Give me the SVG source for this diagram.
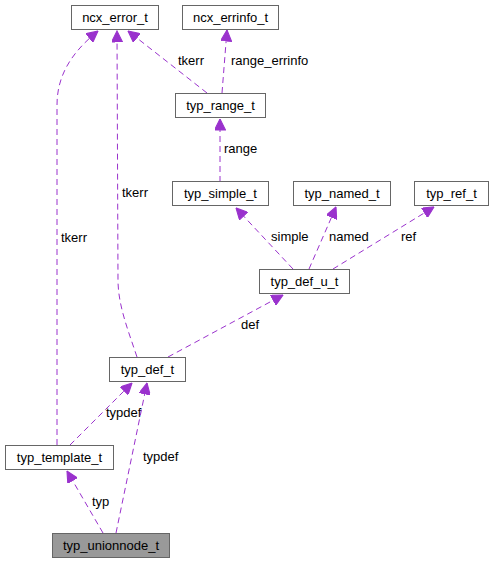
<svg xmlns="http://www.w3.org/2000/svg" width="493" height="564" viewBox="0 0 493 564">
<style>
.box{fill:#ffffff;stroke:#666666;stroke-width:1}
.cur{fill:#999999;stroke:#666666;stroke-width:1}
.lbl{font-family:"Liberation Sans",Arial,sans-serif;font-size:13px;fill:#000000}
.nt{text-anchor:middle}
.e{fill:none;stroke:#9a32cd;stroke-width:1;stroke-dasharray:6,4}
</style>
<defs>
<marker id="ah" viewBox="0 0 10 10" refX="10" refY="5" markerWidth="12" markerHeight="11" markerUnits="userSpaceOnUse" orient="auto">
<path d="M0,0 L10,5 L0,10 Z" fill="#9a32cd" stroke="#9a32cd" stroke-width="1" stroke-dasharray="none"/>
</marker>
</defs>
<rect width="493" height="564" fill="#ffffff"/>
<g id="edges">
<path class="e" marker-end="url(#ah)" d="M57,445 L57,105 C57,75 72,52 98,31"/>
<text class="lbl" x="61" y="242">tkerr</text>
<path class="e" marker-end="url(#ah)" d="M137,357 C128,330 118,305 118,280 L117,31"/>
<text class="lbl" x="122" y="197">tkerr</text>
<path class="e" marker-end="url(#ah)" d="M207,93 L128,31"/>
<text class="lbl" x="178" y="65">tkerr</text>
<path class="e" marker-end="url(#ah)" d="M222,93 L227,30"/>
<text class="lbl" x="231" y="65">range_errinfo</text>
<path class="e" marker-end="url(#ah)" d="M220,182 L220,119"/>
<text class="lbl" x="224" y="153">range</text>
<path class="e" marker-end="url(#ah)" d="M293,269 L236,208"/>
<text class="lbl" x="271" y="241">simple</text>
<path class="e" marker-end="url(#ah)" d="M309,269 L336,207"/>
<text class="lbl" x="329" y="241">named</text>
<path class="e" marker-end="url(#ah)" d="M333,269 L434,207"/>
<text class="lbl" x="401" y="241">ref</text>
<path class="e" marker-end="url(#ah)" d="M168,357 L283,295"/>
<text class="lbl" x="241" y="329">def</text>
<path class="e" marker-end="url(#ah)" d="M70,445 L132,383"/>
<text class="lbl" x="106" y="417">typdef</text>
<path class="e" marker-end="url(#ah)" d="M116,533 L147,383"/>
<text class="lbl" x="143" y="461">typdef</text>
<path class="e" marker-end="url(#ah)" d="M103,533 L67,471"/>
<text class="lbl" x="92" y="506">typ</text>
</g>
<g id="ncx_error_t"><rect class="box" x="71.5" y="5.5" width="87" height="24"/><text class="lbl nt" x="115" y="22">ncx_error_t</text></g>
<g id="ncx_errinfo_t"><rect class="box" x="182.5" y="5.5" width="96" height="24"/><text class="lbl nt" x="230.5" y="22">ncx_errinfo_t</text></g>
<g id="typ_range_t"><rect class="box" x="175.5" y="93.5" width="90" height="24"/><text class="lbl nt" x="220.5" y="110">typ_range_t</text></g>
<g id="typ_simple_t"><rect class="box" x="172.5" y="181.5" width="96" height="24"/><text class="lbl nt" x="220.5" y="198">typ_simple_t</text></g>
<g id="typ_named_t"><rect class="box" x="293.5" y="181.5" width="97" height="24"/><text class="lbl nt" x="342" y="198">typ_named_t</text></g>
<g id="typ_ref_t"><rect class="box" x="414.5" y="181.5" width="74" height="24"/><text class="lbl nt" x="451.5" y="198">typ_ref_t</text></g>
<g id="typ_def_u_t"><rect class="box" x="259.5" y="269.5" width="90" height="24"/><text class="lbl nt" x="304.5" y="286">typ_def_u_t</text></g>
<g id="typ_def_t"><rect class="box" x="109.5" y="357.5" width="76" height="24"/><text class="lbl nt" x="147.5" y="374">typ_def_t</text></g>
<g id="typ_template_t"><rect class="box" x="5.5" y="445.5" width="108" height="24"/><text class="lbl nt" x="59.5" y="462">typ_template_t</text></g>
<g id="typ_unionnode_t"><rect class="cur" x="52.5" y="533.5" width="117" height="24"/><text class="lbl nt" x="111" y="550">typ_unionnode_t</text></g>
</svg>
